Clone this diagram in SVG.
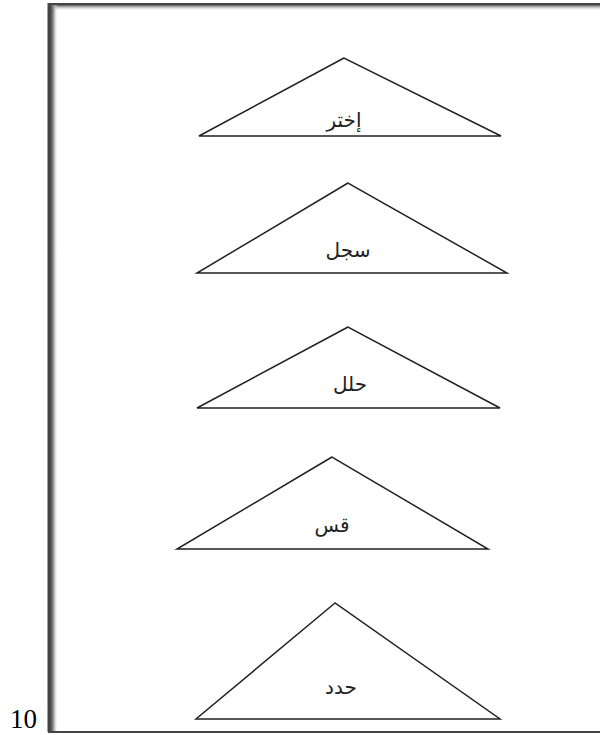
<svg xmlns="http://www.w3.org/2000/svg" width="600" height="735" viewBox="0 0 600 735">
  <defs>
    <linearGradient id="shadeL" x1="0" y1="0" x2="1" y2="0">
      <stop offset="0" stop-color="#444"/>
      <stop offset="0.4" stop-color="#888"/>
      <stop offset="1" stop-color="#fff" stop-opacity="0"/>
    </linearGradient>
    <linearGradient id="shadeT" x1="0" y1="0" x2="0" y2="1">
      <stop offset="0" stop-color="#555"/>
      <stop offset="1" stop-color="#fff" stop-opacity="0"/>
    </linearGradient>
  </defs>
  <style>
    .tri { fill: #fff; stroke: #222; stroke-width: 1.5; stroke-linejoin: miter; }
    .lbl { font-family: "DejaVu Sans", "Liberation Sans", sans-serif; font-size: 20px; fill: #222; text-anchor: middle; direction: rtl; }
    .num { font-family: "Liberation Serif", serif; font-size: 27px; fill: #000; }
  </style>
  <rect width="600" height="735" fill="#fff"/>
  <g id="frame">
    <rect x="52" y="5" width="560" height="6" fill="url(#shadeT)"/>
    <rect x="50" y="5" width="8" height="726" fill="url(#shadeL)"/>
    <line x1="48" y1="4" x2="600" y2="4" stroke="#444" stroke-width="2"/>
    <line x1="49" y1="3" x2="49" y2="732" stroke="#444" stroke-width="3"/>
    <line x1="48" y1="732" x2="600" y2="732" stroke="#444" stroke-width="2"/>
  </g>
  <g id="connectors"/>
  <g id="node1">
    <polygon class="tri" points="344,58 199,136 501,136"/>
    <text class="lbl" x="344" y="127">إختر</text>
  </g>
  <g id="node2">
    <polygon class="tri" points="348,183 197,273 507,273"/>
    <text class="lbl" x="348" y="257">سجل</text>
  </g>
  <g id="node3">
    <polygon class="tri" points="348,327 197,408 500,408"/>
    <text class="lbl" x="350" y="391">حلل</text>
  </g>
  <g id="node4">
    <polygon class="tri" points="332,457 177,549 488,549"/>
    <text class="lbl" x="332" y="532">قس</text>
  </g>
  <g id="node5">
    <polygon class="tri" points="335,603 196,719 500,719"/>
    <text class="lbl" x="341" y="694">حدد</text>
  </g>
  <text class="num" x="10" y="728">10</text>
</svg>
